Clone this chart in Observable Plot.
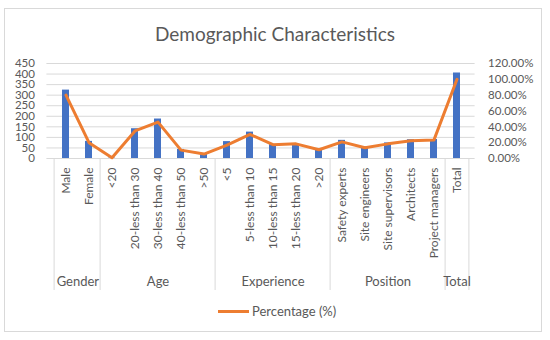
<!DOCTYPE html>
<html>
<head>
<meta charset="utf-8">
<script src="https://cdn.jsdelivr.net/npm/d3@7"></script>
<script src="https://cdn.jsdelivr.net/npm/@observablehq/plot@0.6"></script>
<style>
  body { margin: 0; background: #fff; font-family: Lato, "Open Sans", sans-serif; }
  #wrap { position: relative; width: 550px; height: 340px; overflow: hidden; background: #fff; }
  #frame { position: absolute; left: 4px; top: 8px; width: 538px; height: 324px; box-sizing: border-box; border: 1px solid #d9d9d9; }
  #title { position: absolute; left: 0; width: 550px; top: 21px; text-align: center; font-size: 19px; color: #595959; line-height: 26px; }
  #chart { position: absolute; left: 0; top: 50px; }
  #legend { position: absolute; left: 218px; top: 302px; height: 18px; display: flex; align-items: center; font-size: 13px; color: #595959; }
  #legend .sw { width: 31px; height: 3px; background: #ED7D31; margin-right: 3px; }
</style>
</head>
<body>
<div id="wrap">
  <div id="frame"></div>
  <div id="title">Demographic Characteristics</div>
  <div id="chart"></div>
  <div id="legend"><span class="sw"></span><span>Percentage (%)</span></div>
</div>
<script>
// Categories (x axis)
const categories = ["Male", "Female", "<20", "20-less than 30", "30-less than 40", "40-less than 50", ">50",
  "<5", "5-less than 10", "10-less than 15", "15-less than 20", ">20",
  "Safety experts", "Site engineers", "Site supervisors", "Architects", "Project managers", "Total"];
// Frequency (bars, left axis)
const counts = [324, 81, 2, 141, 187, 43, 24, 80, 125, 66, 64, 42, 86, 55, 74, 89, 90, 405];
// Percentage (line, right axis)
const percentages = [80, 20, 1, 34.8, 46, 10.6, 5.6, 17, 30.5, 17.5, 18.5, 11, 21, 13.5, 18.5, 22.5, 23.5, 100];
// Groups: label, first category, number of categories
const groupNames = ["Gender", "Age", "Experience", "Position", "Total"];
const groupStarts = ["Male", "<20", "<5", "Safety experts", "Total"];
const groupSizes = [2, 5, 5, 5, 1];
// Tick labels
const leftTicks = [0, 50, 100, 150, 200, 250, 300, 350, 400, 450];
const rightTicks = [0, 20, 40, 60, 80, 100, 120];

const W = 550, H = 250;
const ml = 46.4, mr = 75.4, mt = 13, mb = 142;
const step = (W - ml - mr) / categories.length;
const k = 450 / 120; // count units per percent (secondary axis mapping)

const rows = categories.map((c, i) => ({cat: c, count: counts[i], pct: percentages[i], pctY: percentages[i] * k}));
const groups = groupNames.map((g, i) => {
  const s = categories.indexOf(groupStarts[i]);
  const mid = s + (groupSizes[i] - 1) / 2;
  return {name: g, cat: categories[Math.floor(mid)], half: mid !== Math.floor(mid)};
});
const lastCat = categories[categories.length - 1];
const sepStyle = {stroke: "#d9d9d9", strokeWidth: 1, insetTop: H - mt - mb, insetBottom: -132};
const textStyle = {x: "cat", text: "name", frameAnchor: "bottom", dy: 127, fontSize: 13, fill: "#595959"};

const chart = Plot.plot({
  width: W, height: H,
  marginLeft: ml, marginRight: mr, marginTop: mt, marginBottom: mb,
  style: {color: "#595959", fontFamily: "Lato, 'Open Sans', sans-serif", background: "transparent", overflow: "visible"},
  x: {domain: categories, type: "band", paddingInner: 0.7, paddingOuter: 0.35},
  y: {domain: [0, 450]},
  marks: [
    Plot.ruleY(leftTicks, {stroke: "#d9d9d9", strokeWidth: 1}),
    Plot.barY(rows, {x: "cat", y: "count", fill: "#4472C4"}),
    Plot.line(rows, {x: "cat", y: "pctY", stroke: "#ED7D31", strokeWidth: 3, strokeLinejoin: "round", strokeLinecap: "round"}),
    Plot.axisY({ticks: leftTicks, tickSize: 0, tickPadding: 12, fontSize: 11.5, label: null}),
    Plot.axisY({anchor: "right", ticks: rightTicks.map(p => p * k), tickFormat: v => (v / k).toFixed(2) + "%", tickSize: 0, tickPadding: 13, fontSize: 11.5, label: null}),
    Plot.axisX({tickRotate: -90, tickSize: 0, tickPadding: 9, fontSize: 12, label: null}),
    Plot.ruleX(groupStarts, {x: d => d, dx: -step / 2, ...sepStyle}),
    Plot.ruleX([lastCat], {x: d => d, dx: step / 2, ...sepStyle}),
    Plot.text(groups.filter(d => !d.half), {...textStyle}),
    Plot.text(groups.filter(d => d.half), {...textStyle, dx: step / 2})
  ]
});
document.getElementById("chart").appendChild(chart);
</script>
</body>
</html>
